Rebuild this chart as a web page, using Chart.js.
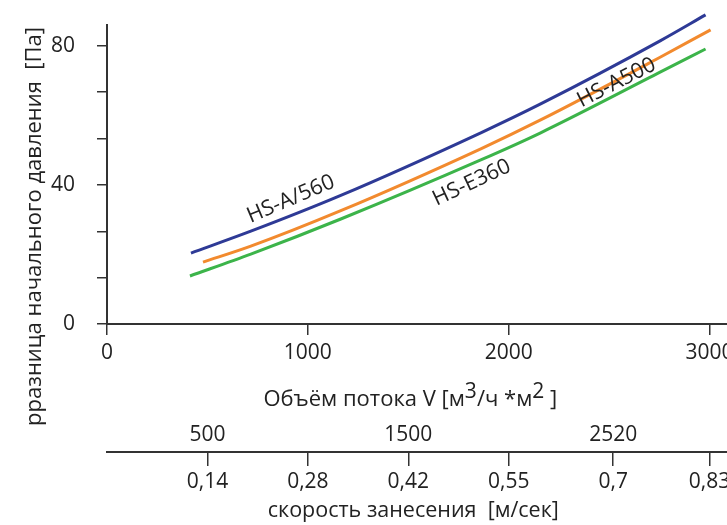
<!DOCTYPE html>
<html>
<head>
<meta charset="utf-8">
<script src="https://cdn.jsdelivr.net/npm/chart.js@4.4.0/dist/chart.umd.min.js"></script>
<style>
  html, body { margin: 0; padding: 0; overflow: hidden; background: #fff; }
  #wrap { width: 780px; height: 525px; }
</style>
</head>
<body>
<div id="wrap"><canvas id="pressureChart" width="780" height="525"></canvas></div>
<script>
// values
const flowA560 = [418, 716, 1164, 1861, 2159, 2756, 2980];
const dpA560   = [20.4, 26.7, 37.0, 55.0, 63.3, 81.5, 88.9];
const flowA500 = [478, 716, 1164, 1861, 2159, 2756, 3005];
const dpA500   = [17.8, 22.4, 32.6, 50.4, 58.7, 76.8, 84.6];
const flowE360 = [413, 716, 1164, 1861, 2159, 2756, 2980];
const dpE360   = [13.8, 20.1, 30.2, 47.2, 55.0, 72.5, 79.1];

const flowTicks = [0, 1000, 2000, 3000];
const pressureTicks = [0, 40 / 3, 80 / 3, 40, 160 / 3, 200 / 3, 80];
const pressureLabels = ['0', '', '', '40', '', '', '80'];
const volumeTicks = [500, 1500, 2520];
const speedTicks = [500, 1000, 1500, 2000, 2520, 3000];
const speedLabels = ['0,14', '0,28', '0,42', '0,55', '0,7', '0,83'];

const curveLabels = [
  { text: 'HS-A/560', flow: 915, dp: 35.9, angle: -23 },
  { text: 'HS-E360', flow: 1816, dp: 40.6, angle: -25 },
  { text: 'HS-A500', flow: 2537, dp: 69.4, angle: -27 }
];

const INK = '#222';
const AXIS = '#333';
const FONT = "'Open Sans', sans-serif";

const toPoints = (xs, ys) => xs.map((v, i) => ({ x: v, y: ys[i] }));

const fixedTicks = (values) => (scale) => {
  scale.ticks = values.map(v => ({ value: v }));
};

const textPlugin = {
  id: 'chartTexts',
  afterDraw(chart) {
    const { ctx, scales: { x, y } } = chart;
    const mid = x.getPixelForValue(1510);
    ctx.save();
    ctx.fillStyle = INK;

    // y axis title, reading bottom to top
    ctx.font = `22px ${FONT}`;
    ctx.save();
    ctx.translate(35, 27);
    ctx.rotate(-Math.PI / 2);
    ctx.textAlign = 'right';
    ctx.textBaseline = 'middle';
    ctx.fillText('рразница начального давления  [Па]', 0, 0);
    ctx.restore();

    // flow title with superscripts
    const parts = [['Объём потока V [м', false], ['3', true], ['/ч *м', false], ['2', true], [' ]', false]];
    ctx.textBaseline = 'alphabetic';
    ctx.textAlign = 'left';
    let total = 0;
    parts.forEach(([t, sup]) => {
      ctx.font = `${sup ? 21 : 22}px ${FONT}`;
      total += ctx.measureText(t).width;
    });
    let cx = mid - total / 2;
    const base = 406;
    parts.forEach(([t, sup]) => {
      ctx.font = `${sup ? 21 : 22}px ${FONT}`;
      ctx.fillText(t, cx, sup ? base - 8 : base);
      cx += ctx.measureText(t).width;
    });

    // speed title
    ctx.font = `21.5px ${FONT}`;
    ctx.textAlign = 'center';
    ctx.textBaseline = 'middle';
    ctx.fillText('скорость занесения  [м/сек]', mid + 3, 511);

    // curve names
    ctx.font = `21.5px ${FONT}`;
    curveLabels.forEach(l => {
      ctx.save();
      ctx.translate(x.getPixelForValue(l.flow), y.getPixelForValue(l.dp));
      ctx.rotate(l.angle * Math.PI / 180);
      ctx.fillText(l.text, 0, 0);
      ctx.restore();
    });
    ctx.restore();
  }
};

const lineSet = (label, xs, ys, color) => ({
  label,
  data: toPoints(xs, ys),
  borderColor: color,
  borderWidth: 3,
  pointRadius: 0,
  fill: false,
  cubicInterpolationMode: 'monotone',
  clip: false
});

const numFont = { family: FONT, size: 21 };

new Chart(document.getElementById('pressureChart'), {
  type: 'line',
  data: {
    datasets: [
      lineSet('HS-A/560', flowA560, dpA560, '#2e3a96'),
      lineSet('HS-A500', flowA500, dpA500, '#f28a2e'),
      lineSet('HS-E360', flowE360, dpE360, '#3cb44a')
    ]
  },
  options: {
    responsive: false,
    animation: false,
    layout: { padding: { left: 0, right: 20, top: 25, bottom: 0 } },
    plugins: { legend: { display: false }, tooltip: { enabled: false } },
    scales: {
      x: {
        type: 'linear', position: 'bottom', weight: 0,
        min: 0, max: 3251,
        afterBuildTicks: fixedTicks(flowTicks),
        afterFit: s => { s.height = 96; },
        grid: { drawOnChartArea: false, tickLength: 11, color: AXIS, lineWidth: 1.5 },
        border: { color: AXIS, width: 2 },
        ticks: { color: INK, font: numFont, padding: 5, maxRotation: 0, autoSkip: false, callback: v => String(v) }
      },
      xVolume: {
        type: 'linear', position: 'bottom', weight: 1,
        min: 0, max: 3251,
        afterBuildTicks: fixedTicks(volumeTicks),
        afterFit: s => { s.height = 32; },
        grid: { display: false, drawTicks: false },
        border: { display: false },
        ticks: { color: INK, font: numFont, padding: 2, maxRotation: 0, autoSkip: false, callback: v => String(v) }
      },
      xSpeed: {
        type: 'linear', position: 'bottom', weight: 2,
        min: 0, max: 3251,
        afterBuildTicks: fixedTicks(speedTicks),
        afterFit: s => { s.height = 73; },
        grid: { drawOnChartArea: false, tickLength: 14, color: AXIS, lineWidth: 1.5 },
        border: { color: AXIS, width: 2 },
        ticks: {
          color: INK, font: numFont, padding: 3, maxRotation: 0, autoSkip: false,
          callback: (v) => speedLabels[speedTicks.indexOf(v)]
        }
      },
      y: {
        type: 'linear', position: 'left',
        min: 0, max: 86,
        afterBuildTicks: fixedTicks(pressureTicks),
        afterFit: s => { s.width = 107; s.paddingTop = 0; s.paddingBottom = 0; },
        grid: { drawOnChartArea: false, tickLength: 10, color: AXIS, lineWidth: 1.5 },
        border: { color: AXIS, width: 2 },
        ticks: {
          color: INK, font: numFont, padding: 22, autoSkip: false,
          callback: (v) => pressureLabels[pressureTicks.indexOf(v)]
        }
      }
    }
  },
  plugins: [textPlugin]
});
</script>
</body>
</html>
